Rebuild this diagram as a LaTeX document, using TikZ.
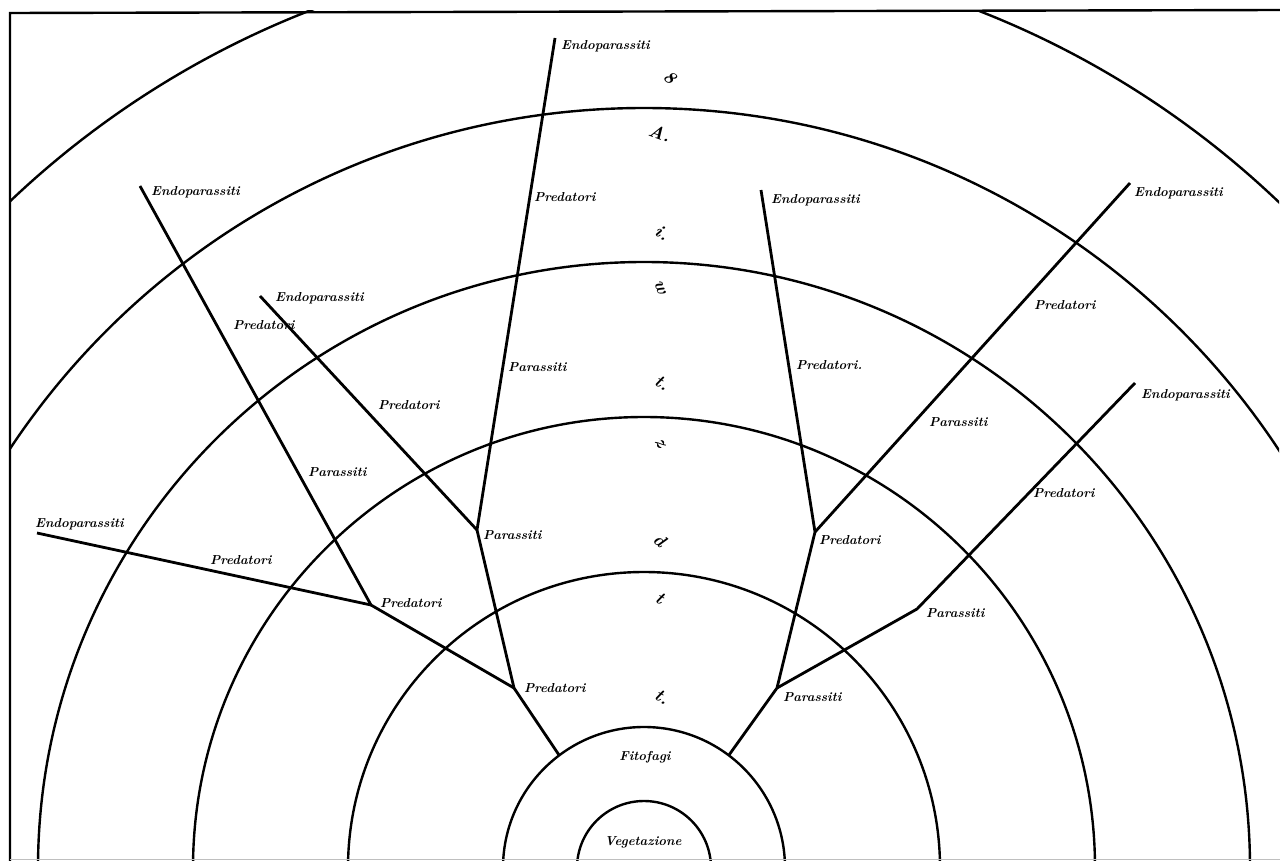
\documentclass[tikz,border=0pt]{standalone}
\tikzset{
  ring/.style={line width=2.4pt},
  branch/.style={line width=2.8pt, line join=round},
  lbl/.style={font=\fontsize{13}{14}\selectfont\bfseries\itshape, inner sep=1pt, anchor=west},
  ctr/.style={font=\fontsize{13}{14}\selectfont\bfseries\itshape, inner sep=1pt},
  numsign/.style={font=\fontsize{18}{18}\selectfont\bfseries\itshape, inner sep=0pt}
}
\begin{document}
\begin{tikzpicture}[x=1pt,y=-1pt]
\useasboundingbox (0,0) rectangle (1280,861);
\fill[white] (0,0) rectangle (1280,861);
\begin{scope}
  \clip (10,11) rectangle (1279,861);
  \foreach \r in {67,141,296,451,606,760,920}
    \draw[ring] (644,868) circle[radius=\r pt];
\end{scope}
\draw[ring] (10,861) -- (10,13) -- (1280,10);
\draw[gray!50, line width=1pt] (10,859) -- (1280,859);

\coordinate (ls) at (559,755);
\coordinate (rs) at (729,755);
\coordinate (lp1) at (514,688);
\coordinate (lpa) at (477,530);
\coordinate (etop) at (555,38);
\coordinate (e2) at (260,296);
\coordinate (lp2) at (371,605);
\coordinate (e1) at (140,186);
\coordinate (e0) at (37,533);
\coordinate (rpa) at (777,688);
\coordinate (rp) at (815,532);
\coordinate (e3) at (761,190);
\coordinate (e4) at (1130,183);
\coordinate (rpa2) at (917,609);
\coordinate (e5) at (1135,383);

\draw[branch] (ls) -- (lp1) -- (lpa) -- (etop);
\draw[branch] (lpa) -- (e2);
\draw[branch] (lp1) -- (lp2) -- (e1);
\draw[branch] (lp2) -- (e0);
\draw[branch] (rs) -- (rpa) -- (rp) -- (e3);
\draw[branch] (rp) -- (e4);
\draw[branch] (rpa) -- (rpa2) -- (e5);

% left side labels
\node[lbl] (t1) at (523,688) {Predatori};
\node[lbl] (t2) at (482,535) {Parassiti};
\node[lbl] (t3) at (533,197) {Predatori};
\node[lbl] (t4) at (507,367) {Parassiti};
\node[lbl] (t5) at (377,405) {Predatori};
\node[lbl] (t6) at (274,298) {Endoparassiti};
\node[lbl] (t7) at (379,603) {Predatori};
\node[lbl] (t8) at (209,560) {Predatori};
\node[lbl] (t9) at (34,524) {Endoparassiti};
\node[lbl] (t10) at (307,472) {Parassiti};
\node[lbl] (t11) at (232,325) {Predatori};
\node[lbl] (t12) at (150,192) {Endoparassiti};
\node[lbl] (t13) at (560,46) {Endoparassiti};
% right side labels
\node[lbl] (t14) at (782,697) {Parassiti};
\node[lbl] (t15) at (818,540) {Predatori};
\node[lbl] (t16) at (795,365) {Predatori.};
\node[lbl] (t17) at (770,200) {Endoparassiti};
\node[lbl] (t18) at (928,422) {Parassiti};
\node[lbl] (t19) at (1033,305) {Predatori};
\node[lbl] (t20) at (1133,193) {Endoparassiti};
\node[lbl] (t21) at (925,613) {Parassiti};
\node[lbl] (t22) at (1032,493) {Predatori};
\node[lbl] (t23) at (1140,395) {Endoparassiti};
% centre
\node[ctr] (fit) at (645,757) {Fitofagi};
\node[ctr] (veg) at (643,842) {Vegetazione};
% ring marks
\node[numsign, rotate=-40] (m9) at (670,77) {8};
\node[numsign, rotate=-20] (m8) at (660,133) {A.};
\node[numsign, rotate=-30] (m7) at (662,233) {i.};
\node[numsign, rotate=-70] (m6) at (660,288) {w};
\node[numsign, rotate=-30] (m5) at (662,383) {t.};
\node[numsign, rotate=-60] (m4) at (660,443) {z};
\node[numsign, rotate=-40] (m3) at (660,540) {d};
\node[numsign, rotate=-30] (m2) at (660,598) {t};
\node[numsign, rotate=-30] (m1) at (662,697) {t.};
\end{tikzpicture}
\end{document}
